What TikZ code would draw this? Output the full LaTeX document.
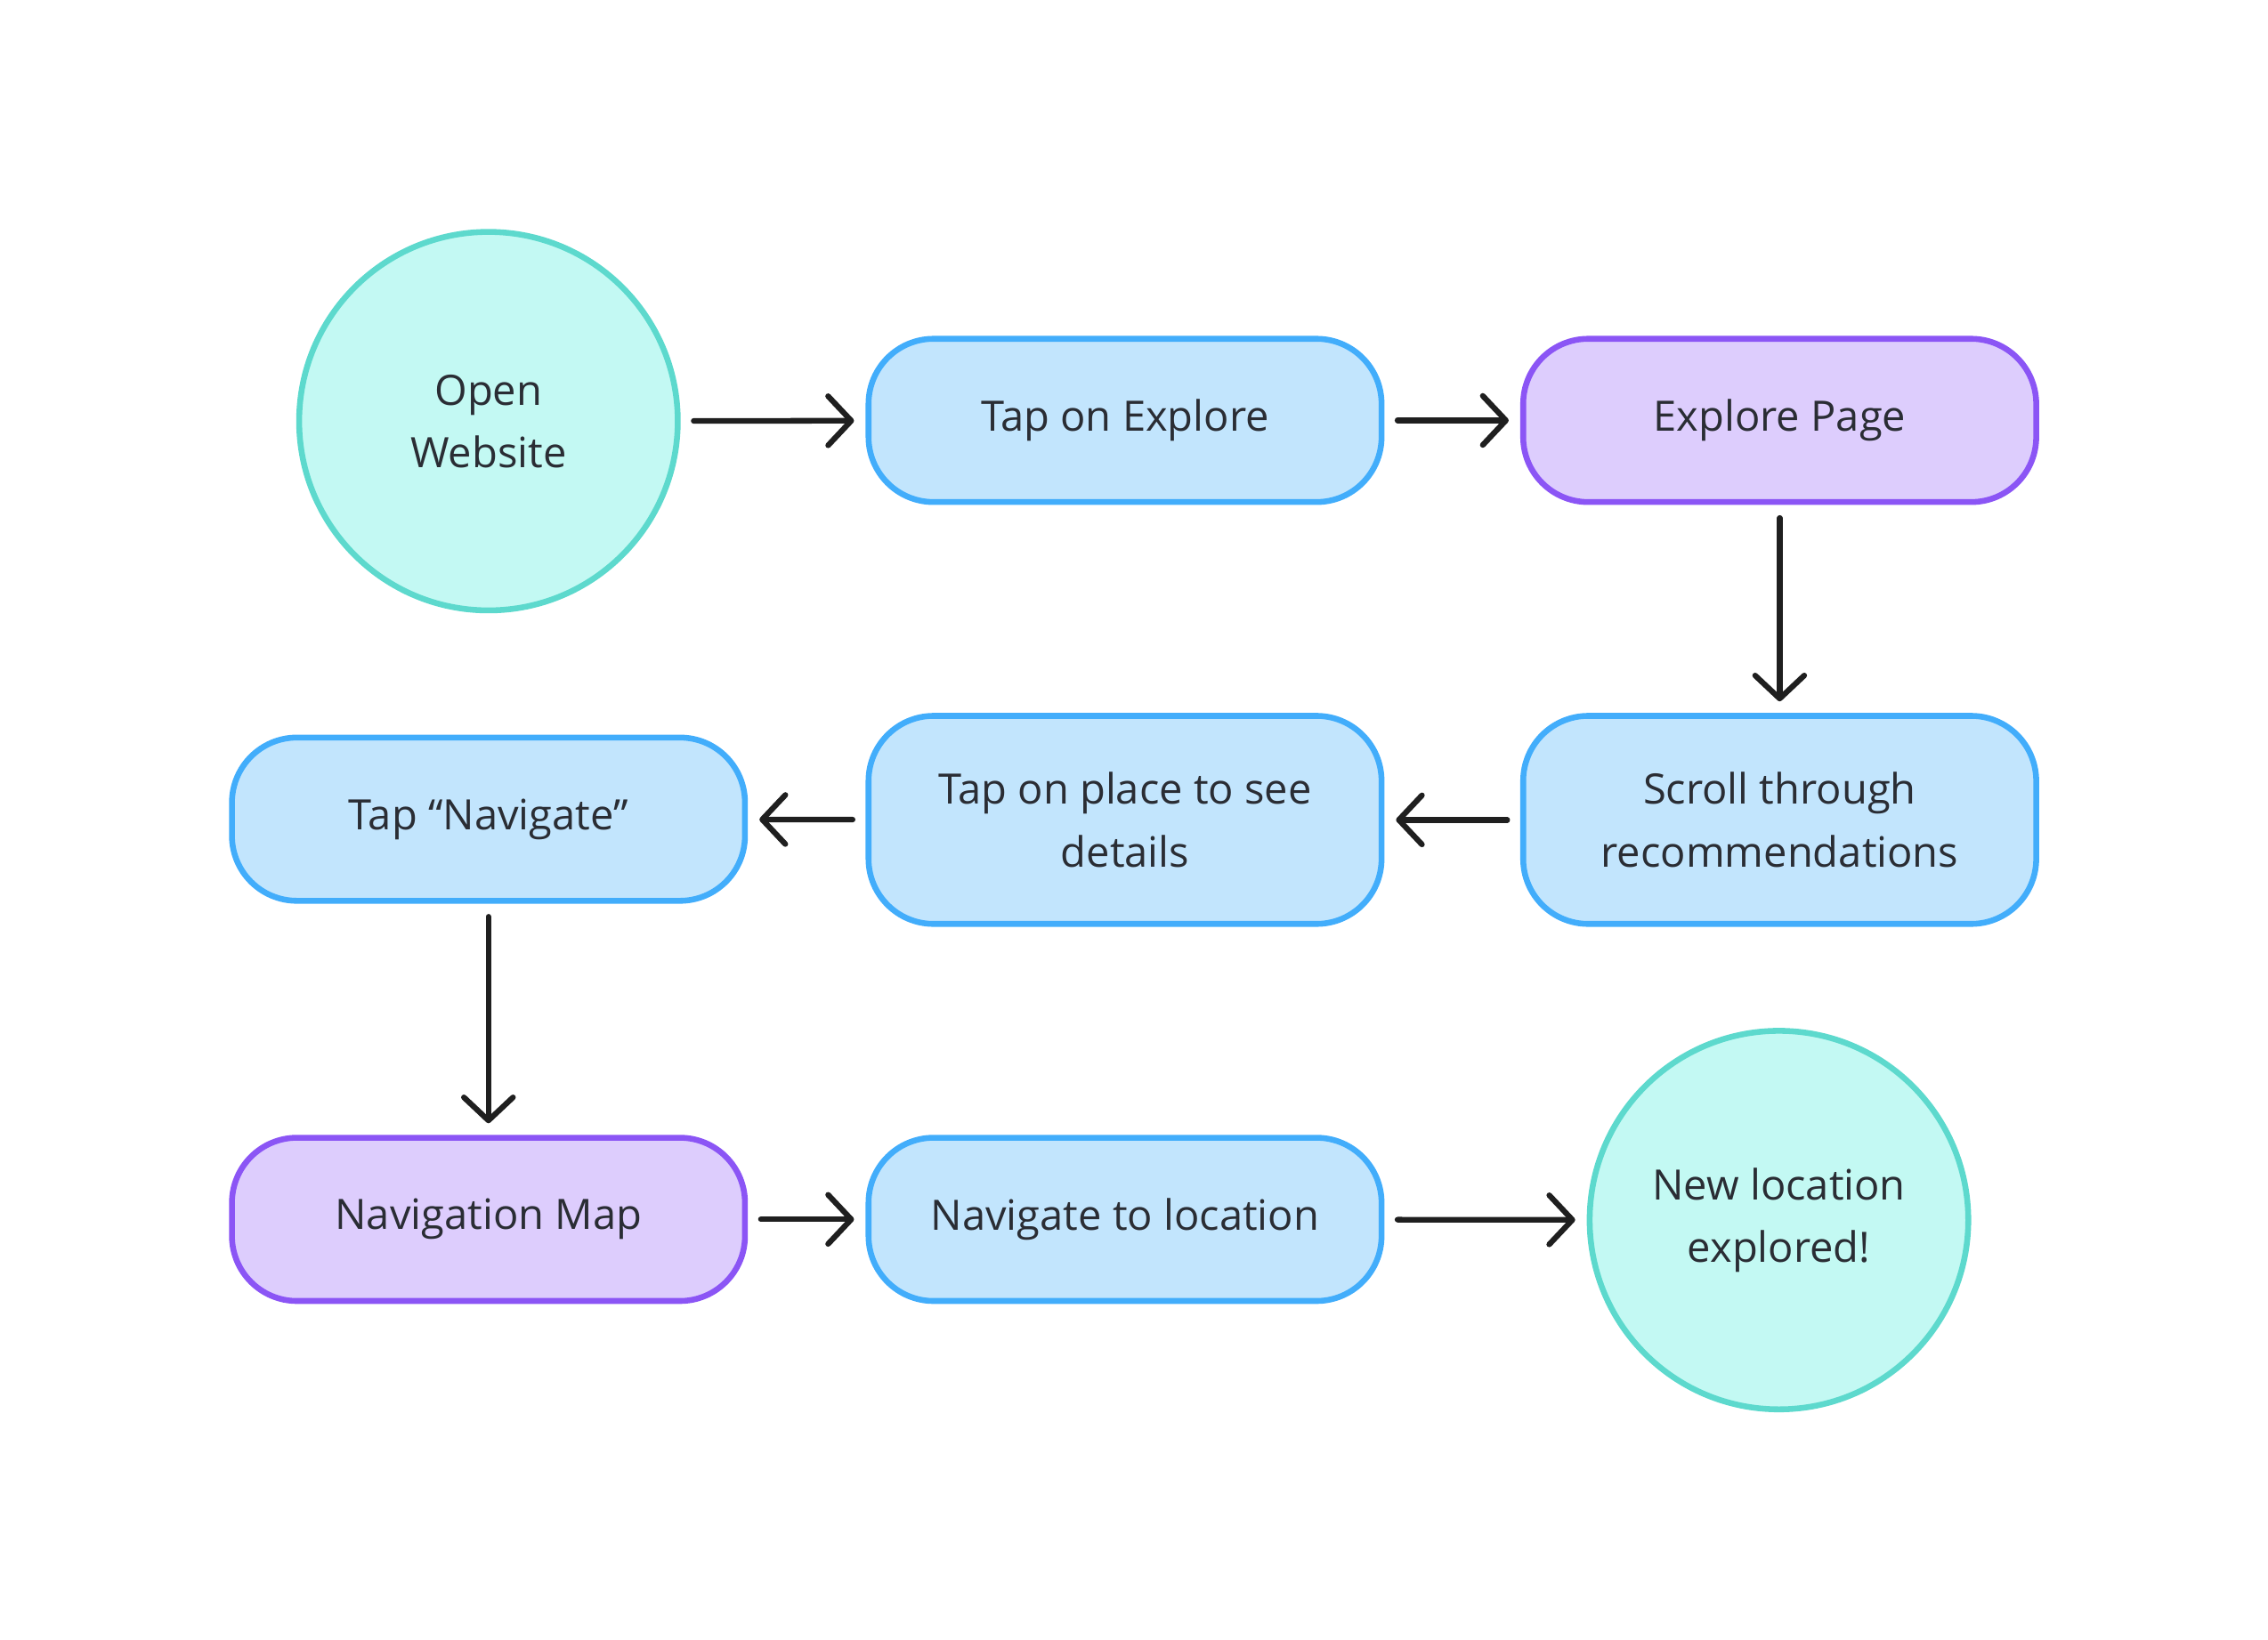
\documentclass[tikz,border=0pt]{standalone}
\usepackage{fontspec}
\setmainfont{Open Sans}
\usetikzlibrary{positioning}
\usetikzlibrary{calc}
\usetikzlibrary{arrows.meta}

\definecolor{tealline}{HTML}{5DD9CD}
\definecolor{tealfill}{HTML}{C3F9F3}
\definecolor{blueline}{HTML}{42ADFB}
\definecolor{bluefill}{HTML}{C2E5FD}
\definecolor{purpline}{HTML}{8B55F5}
\definecolor{purpfill}{HTML}{DDCDFD}
\definecolor{inktext}{HTML}{2A2D34}
\definecolor{inkarrow}{HTML}{1F1F1F}

\tikzset{
  every node/.style={text=inktext, font=\fontsize{8.25}{12.3}\selectfont, align=center, inner sep=0pt},
  endpoint/.style={circle, draw=tealline, fill=tealfill, line width=1.15pt, minimum size=2.62cm},
  stepbox/.style={rectangle, rounded corners=0.45cm, draw=blueline, fill=bluefill, line width=1.15pt, minimum width=3.55cm, minimum height=1.13cm},
  pagebox/.style={stepbox, draw=purpline, fill=purpfill},
  flow/.style={draw=inkarrow, line width=1.1pt, line cap=round, -{Straight Barb[length=1.6mm,width=3.4mm,round]}, shorten <=0.09cm, shorten >=0.08cm}
}

\begin{document}
\begin{tikzpicture}
\useasboundingbox (-0.01,0.015) rectangle (15.684,-11.331);

\node[endpoint](open) at (3.37,-2.90){Open\\Website};
\node[stepbox](tapexp) at (7.775,-2.895){Tap on Explore};
\node[pagebox](exppage) at (12.305,-2.895){Explore Page};
\node[stepbox, minimum height=1.44cm](scroll) at (12.305,-5.66){Scroll through\\recommendations};
\node[stepbox, minimum height=1.44cm](tapplace) at (7.775,-5.66){Tap on place to see\\details};
\node[stepbox](tapnav) at (3.37,-5.655){Tap “Navigate”};
\node[pagebox](navmap) at (3.37,-8.425){Navigation Map};
\node[stepbox](navloc) at (7.775,-8.425){Navigate to location};
\node[endpoint](newloc) at (12.30,-8.43){New location\\explored!};

\path
(open) edge[flow] (tapexp)
(tapexp) edge[flow] (exppage)
(exppage) edge[flow] (scroll)
(scroll) edge[flow] (tapplace)
(tapplace) edge[flow] (tapnav)
(tapnav) edge[flow] (navmap)
(navmap) edge[flow] (navloc)
(navloc) edge[flow] (newloc);
\end{tikzpicture}
\end{document}
